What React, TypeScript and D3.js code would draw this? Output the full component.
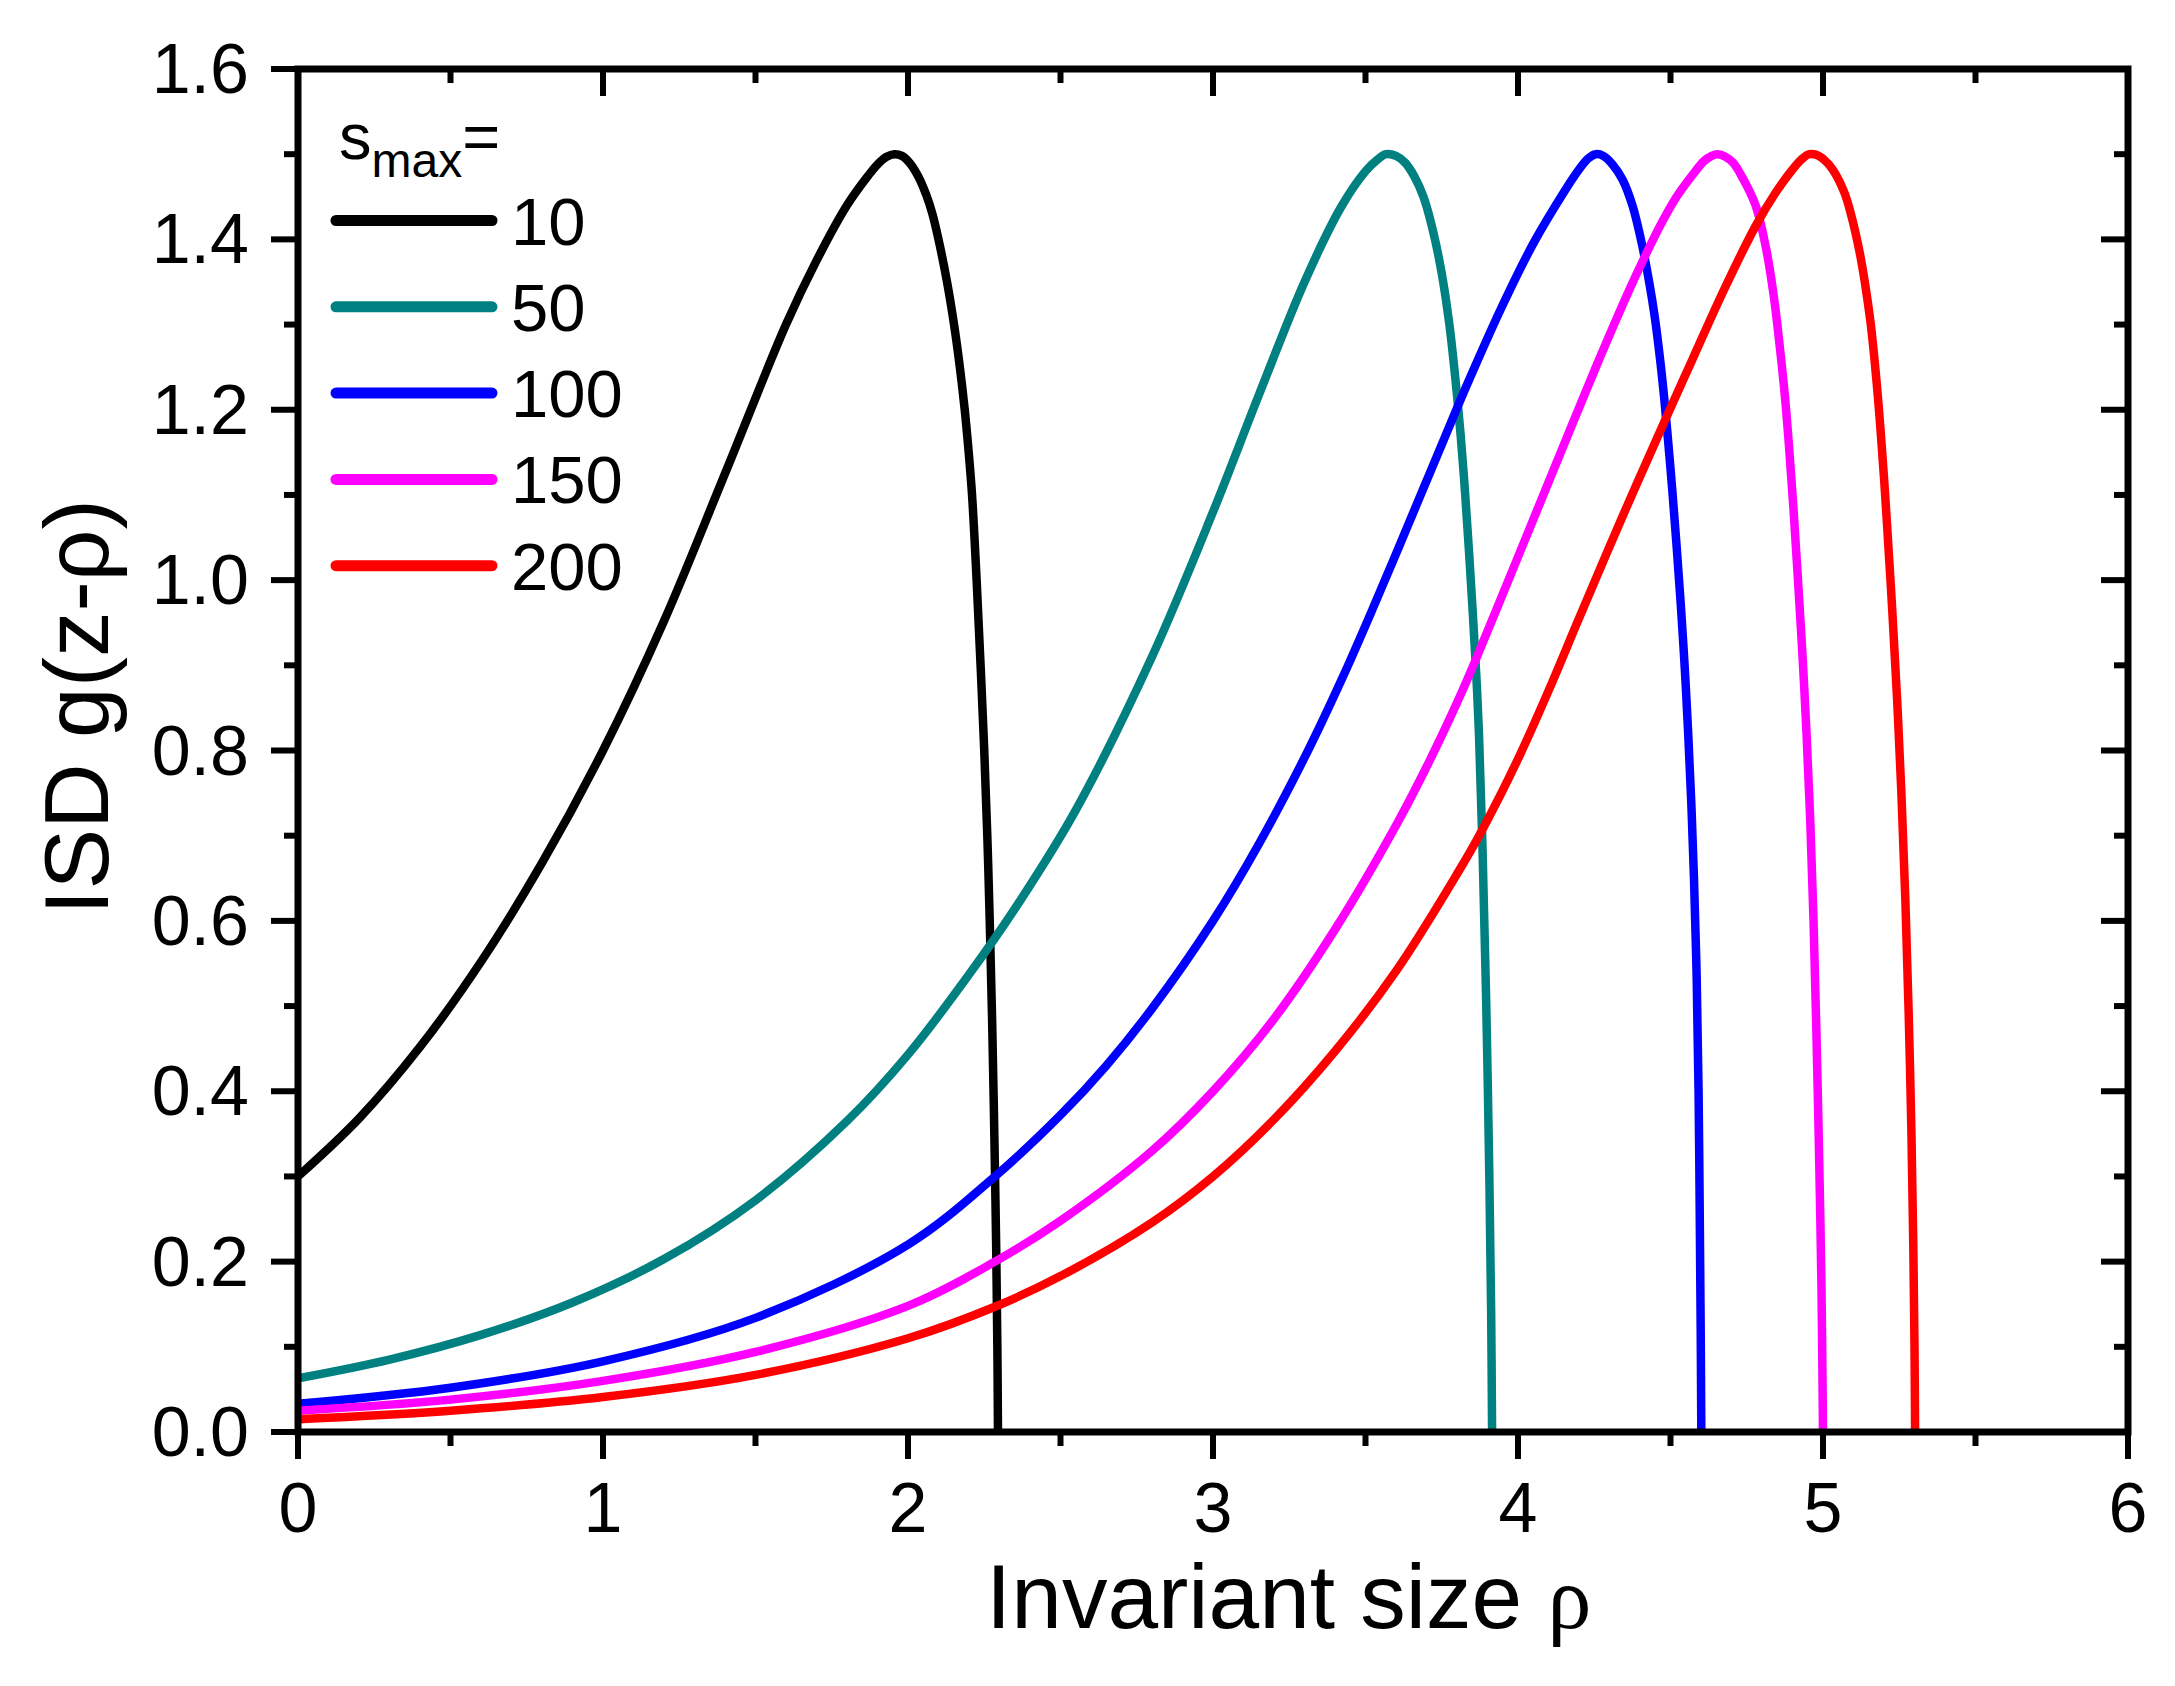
import React from "react";
import * as d3 from "d3";

const W = 2175;
const H = 1686;

const xTicksMajor = [0, 1, 2, 3, 4, 5, 6];
const yTicksMajor = [0, 0.2, 0.4, 0.6, 0.8, 1.0, 1.2, 1.4, 1.6];

const seriesNames = ["10", "50", "100", "150", "200"];
const seriesColors = ["#000000", "#008080", "#0000FF", "#FF00FF", "#FF0000"];

const rho10 = [0, 0.2, 0.4, 0.6, 0.8, 1.0, 1.2, 1.4, 1.6, 1.7, 1.8, 1.87, 1.9, 1.93, 1.955, 1.98, 2.005, 2.035, 2.06, 2.08, 2.1, 2.128, 2.151, 2.17, 2.186, 2.199, 2.21, 2.225, 2.238, 2.25, 2.26, 2.268, 2.276, 2.283, 2.289, 2.293, 2.295];
const g10 = [0.30, 0.368, 0.452, 0.552, 0.668, 0.80, 0.952, 1.125, 1.30, 1.375, 1.44, 1.475, 1.488, 1.497, 1.50, 1.498, 1.49, 1.473, 1.452, 1.43, 1.40, 1.35, 1.30, 1.25, 1.20, 1.15, 1.10, 1.0, 0.90, 0.80, 0.70, 0.60, 0.48, 0.35, 0.22, 0.10, 0];

const rho50 = [0, 0.3, 0.6, 0.9, 1.2, 1.5, 1.8, 2.0, 2.2, 2.37, 2.55, 2.8, 3.0, 3.15, 3.3, 3.42, 3.5, 3.54, 3.567, 3.6, 3.63, 3.66, 3.69, 3.72, 3.75, 3.775, 3.795, 3.812, 3.827, 3.84, 3.852, 3.863, 3.872, 3.884, 3.896, 3.906, 3.912, 3.915];
const g50 = [0.063, 0.085, 0.114, 0.152, 0.203, 0.272, 0.365, 0.443, 0.537, 0.625, 0.73, 0.91, 1.08, 1.217, 1.35, 1.438, 1.48, 1.494, 1.50, 1.498, 1.49, 1.474, 1.45, 1.412, 1.36, 1.30, 1.235, 1.17, 1.10, 1.03, 0.96, 0.89, 0.82, 0.68, 0.50, 0.30, 0.14, 0];

const rho100 = [0, 0.5, 1.0, 1.5, 2.0, 2.285, 2.5, 2.65, 2.8, 3.0, 3.15, 3.309, 3.424, 3.528, 3.633, 3.737, 3.8, 3.842, 3.946, 4.05, 4.155, 4.2, 4.23, 4.255, 4.28, 4.31, 4.343, 4.375, 4.406, 4.43, 4.448, 4.465, 4.479, 4.493, 4.506, 4.52, 4.534, 4.547, 4.558, 4.568, 4.577, 4.586, 4.592, 4.596, 4.599, 4.601];
const g100 = [0.033, 0.052, 0.083, 0.134, 0.22, 0.30, 0.372, 0.43, 0.497, 0.60, 0.69, 0.798, 0.885, 0.97, 1.059, 1.148, 1.202, 1.237, 1.32, 1.395, 1.458, 1.482, 1.495, 1.50, 1.498, 1.488, 1.47, 1.44, 1.395, 1.35, 1.31, 1.262, 1.215, 1.16, 1.105, 1.04, 0.97, 0.895, 0.82, 0.74, 0.65, 0.53, 0.40, 0.25, 0.12, 0];

const rho150 = [0, 0.5, 1.0, 1.5, 2.0, 2.285, 2.5, 2.8, 3.0, 3.2, 3.4, 3.6, 3.706, 3.8, 3.856, 3.946, 4.05, 4.155, 4.26, 4.364, 4.412, 4.469, 4.52, 4.573, 4.61, 4.635, 4.655, 4.68, 4.705, 4.729, 4.778, 4.813, 4.838, 4.858, 4.874, 4.888, 4.903, 4.918, 4.933, 4.946, 4.958, 4.969, 4.979, 4.988, 4.995, 5.0];
const g150 = [0.025, 0.038, 0.06, 0.094, 0.148, 0.20, 0.248, 0.33, 0.40, 0.485, 0.59, 0.712, 0.785, 0.856, 0.902, 0.98, 1.071, 1.163, 1.254, 1.34, 1.377, 1.418, 1.45, 1.476, 1.492, 1.498, 1.50, 1.497, 1.49, 1.477, 1.441, 1.39, 1.335, 1.275, 1.22, 1.16, 1.085, 1.0, 0.91, 0.82, 0.72, 0.60, 0.46, 0.31, 0.17, 0];

const rho200 = [0, 0.5, 1.0, 1.5, 2.0, 2.285, 2.5, 2.8, 3.0, 3.2, 3.4, 3.6, 3.8, 3.88, 4.0, 4.1, 4.2, 4.343, 4.485, 4.573, 4.677, 4.778, 4.845, 4.9, 4.93, 4.955, 4.98, 5.005, 5.032, 5.07, 5.095, 5.12, 5.137, 5.155, 5.168, 5.18, 5.19, 5.2, 5.21, 5.227, 5.243, 5.257, 5.27, 5.281, 5.29, 5.296, 5.3, 5.302];
const g200 = [0.015, 0.025, 0.041, 0.067, 0.11, 0.147, 0.183, 0.246, 0.30, 0.367, 0.447, 0.541, 0.655, 0.705, 0.79, 0.87, 0.955, 1.075, 1.19, 1.26, 1.342, 1.415, 1.455, 1.482, 1.494, 1.50, 1.499, 1.493, 1.482, 1.455, 1.425, 1.385, 1.35, 1.305, 1.262, 1.215, 1.17, 1.12, 1.065, 0.965, 0.86, 0.75, 0.625, 0.49, 0.35, 0.22, 0.10, 0];

const seriesRho = [rho10, rho50, rho100, rho150, rho200];
const seriesG = [g10, g50, g100, g150, g200];

const FONT = "'Liberation Sans', Arial, sans-serif";

export default function App() {
  const x = d3.scaleLinear().domain([0, 6]).range([298, 2128]);
  const y = d3.scaleLinear().domain([0, 1.6]).range([1432, 69]);

  const line = d3
    .line<[number, number]>()
    .x((d) => x(d[0]))
    .y((d) => y(d[1]))
    .curve(d3.curveCatmullRom.alpha(0.5));

  const xAll = x.ticks(12);
  const yAll = y.ticks(16);
  const isMajorX = (v: number) => Math.abs(v - Math.round(v)) < 1e-6;
  const isMajorY = (v: number) => Math.abs(v * 5 - Math.round(v * 5)) < 1e-6;

  const x0 = x.range()[0];
  const x1 = x.range()[1];
  const y0 = y.range()[0];
  const y1 = y.range()[1];
  const major = 27;
  const minor = 14;

  const legendY0 = 220.5;
  const legendDy = 86.3;

  return (
    <svg
      width={W}
      height={H}
      viewBox={`0 0 ${W} ${H}`}
      style={{ position: "absolute", left: 0, top: 0, display: "block", background: "#fff" }}
    >
      <rect x={0} y={0} width={W} height={H} fill="#fff" />
      <defs>
        <clipPath id="plot">
          <rect x={x0} y={y1} width={x1 - x0} height={y0 - y1} />
        </clipPath>
      </defs>

      {/* curves */}
      <g clipPath="url(#plot)">
        {seriesRho.map((rs, i) => (
          <path
            key={seriesNames[i]}
            d={line(rs.map((r, j) => [r, seriesG[i][j]] as [number, number])) || ""}
            fill="none"
            stroke={seriesColors[i]}
            strokeWidth={8.5}
            strokeLinejoin="round"
          />
        ))}
      </g>

      {/* ticks */}
      <g stroke="#000" strokeWidth={6}>
        {xAll.map((v) => {
          const L = isMajorX(v) ? major : minor;
          return (
            <g key={"xt" + v}>
              <line x1={x(v)} x2={x(v)} y1={y0} y2={y0 + L} />
              <line x1={x(v)} x2={x(v)} y1={y1} y2={y1 + L} />
            </g>
          );
        })}
        {yAll.map((v) => {
          const L = isMajorY(v) ? major : minor;
          return (
            <g key={"yt" + v}>
              <line x1={x0} x2={x0 - L} y1={y(v)} y2={y(v)} />
              <line x1={x1} x2={x1 - L} y1={y(v)} y2={y(v)} />
            </g>
          );
        })}
      </g>

      {/* frame */}
      <rect x={x0} y={y1} width={x1 - x0} height={y0 - y1} fill="none" stroke="#000" strokeWidth={7} />

      {/* tick labels */}
      <g fontFamily={FONT} fontSize={70} fill="#000">
        {xTicksMajor.map((v) => (
          <text key={"xl" + v} x={x(v)} y={1532} textAnchor="middle">
            {d3.format("d")(v)}
          </text>
        ))}
        {yTicksMajor.map((v) => (
          <text key={"yl" + v} x={249} y={y(v) + 24} textAnchor="end">
            {d3.format(".1f")(v)}
          </text>
        ))}
      </g>

      {/* axis titles */}
      <text x={986} y={1628} fontFamily={FONT} fontSize={91} fill="#000">
        Invariant size{" "}
        <tspan fontFamily="'Liberation Serif', 'DejaVu Serif', serif" fontSize={88}>
          ρ
        </tspan>
      </text>
      <text
        transform={`translate(108, 707) rotate(-90)`}
        textAnchor="middle"
        fontFamily={FONT}
        fontSize={91}
        fill="#000"
      >
        ISD g(z-ρ)
      </text>

      {/* legend */}
      <text x={339} y={159} fontFamily={FONT} fontSize={65} fill="#000">
        s
        <tspan fontSize={48} dy={18}>
          max
        </tspan>
        <tspan fontSize={65} dy={-18}>
          =
        </tspan>
      </text>
      {seriesNames.map((nm, i) => {
        const ly = legendY0 + i * legendDy;
        return (
          <g key={"lg" + nm}>
            <line
              x1={336}
              x2={492}
              y1={ly}
              y2={ly}
              stroke={seriesColors[i]}
              strokeWidth={11}
              strokeLinecap="round"
            />
            <text x={511} y={ly + 24} fontFamily={FONT} fontSize={67} fill="#000">
              {nm}
            </text>
          </g>
        );
      })}
    </svg>
  );
}
